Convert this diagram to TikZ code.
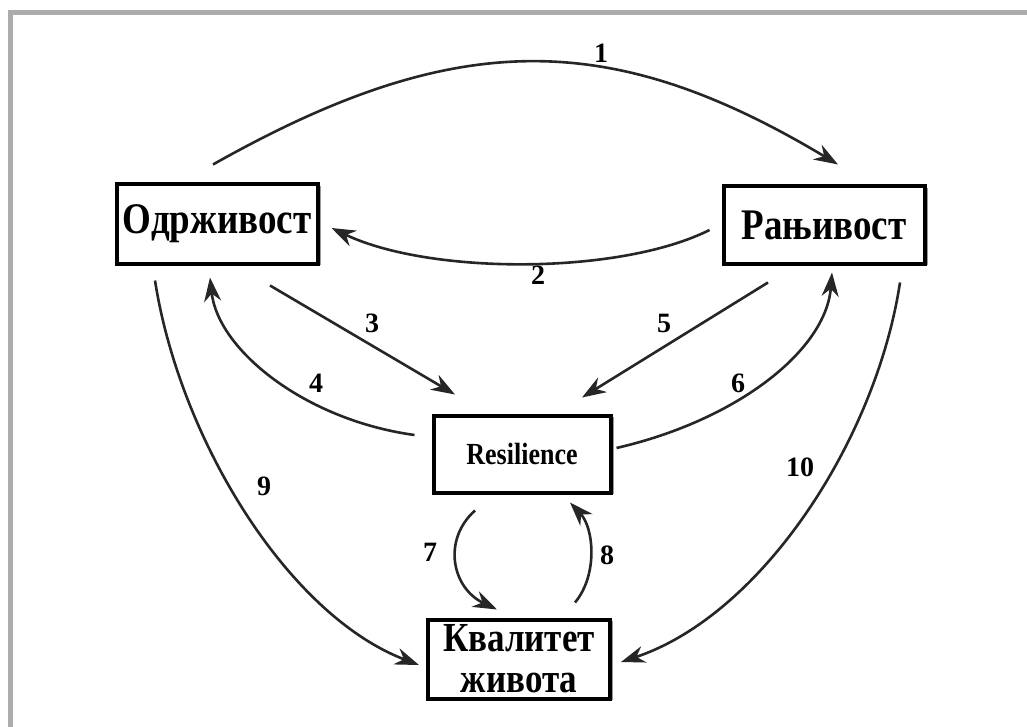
\documentclass[tikz,border=0pt]{standalone}
\usepackage{fontspec}
\setmainfont{Liberation Serif}
\usetikzlibrary{arrows.meta,shadows}
% tall bold lettering
\newcommand{\tallword}[1]{\scalebox{1}[1.18]{#1}}
\begin{document}
\begin{tikzpicture}[x=1pt,y=-1pt,
  box/.style={draw=black, line width=4pt, fill=white, inner sep=0pt, align=center,
    drop shadow={shadow xshift=3pt, shadow yshift=-1.5pt, fill=black!40, opacity=1}},
  bigtext/.style={font=\fontsize{37}{40}\selectfont\bfseries},
  link/.style={draw=black!85, line width=2.6pt, -{Stealth[length=24pt,width=17pt]}},
  num/.style={font=\fontsize{28}{28}\selectfont\bfseries, inner sep=0pt}
]
\useasboundingbox (0,0) rectangle (1027,727);
\fill[white] (0,0) rectangle (1027,727);
% frame on the left and top
\draw[gray!65, line width=5pt] (10,727) -- (10,13) -- (1027,13);

% boxes
\node[box, bigtext, minimum width=201pt, minimum height=79pt] (a) at (217,224) {\tallword{Одрживост}};
\node[box, bigtext, minimum width=201pt, minimum height=77pt] (b) at (824,225) {\tallword{Рањивост}};
\node[box, font=\fontsize{26}{30}\selectfont\bfseries, minimum width=177pt, minimum height=77pt] (r) at (522,454) {\tallword{Resilience}};
\node[box, font=\fontsize{35}{40}\selectfont\bfseries, minimum width=182pt, minimum height=79pt] (q) at (519,659) {\tallword{Квалитет}\\[1pt]\tallword{живота}};

% connectors
\draw[link] ([shift={(-4,-18)}]a.north) .. controls (455,28) and (610,28) .. ([shift={(14,-20)}]b.north);
\draw[link] ([shift={(-12,5)}]b.west) .. controls (620,275) and (430,275) .. ([shift={(12,4)}]a.east);
\draw[link] ([shift={(53,20)}]a.south) -- ([shift={(-67,-19)}]r.north);
\draw[link] ([shift={(-17,-19)}]r.west) .. controls (305,420) and (218,350) .. ([shift={(-7,12)}]a.south);
\draw[link] ([shift={(-56,17)}]b.south) -- ([shift={(60,-16)}]r.north);
\draw[link] ([shift={(4,-6)}]r.east) .. controls (738,420) and (826,350) .. ([shift={(8,7)}]b.south);
\draw[link] ([shift={(-47,16)}]r.south) .. controls (442,540) and (452,588) .. ([shift={(-22,-8)}]q.north);
\draw[link] ([shift={(56,-15)}]q.north) .. controls (598,575) and (594,528) .. ([shift={(48,8)}]r.south);
\draw[link] ([shift={(-62,15)}]a.south) .. controls (180,440) and (288,615) .. ([shift={(-7,6)}]q.west);
\draw[link] ([shift={(76,17)}]b.south) .. controls (876,440) and (762,615) .. ([shift={(9,3)}]q.east);

% connector numbers
\node[num] (l1) at (601,53) {1};
\node[num] (l2) at (538,275) {2};
\node[num] (l3) at (372,323) {3};
\node[num] (l4) at (316,383) {4};
\node[num] (l5) at (664,323) {5};
\node[num] (l6) at (738,383) {6};
\node[num] (l7) at (430,552) {7};
\node[num] (l8) at (607,555) {8};
\node[num] (l9) at (264,486) {9};
\node[num] (l10) at (800,467) {10};
\end{tikzpicture}
\end{document}
